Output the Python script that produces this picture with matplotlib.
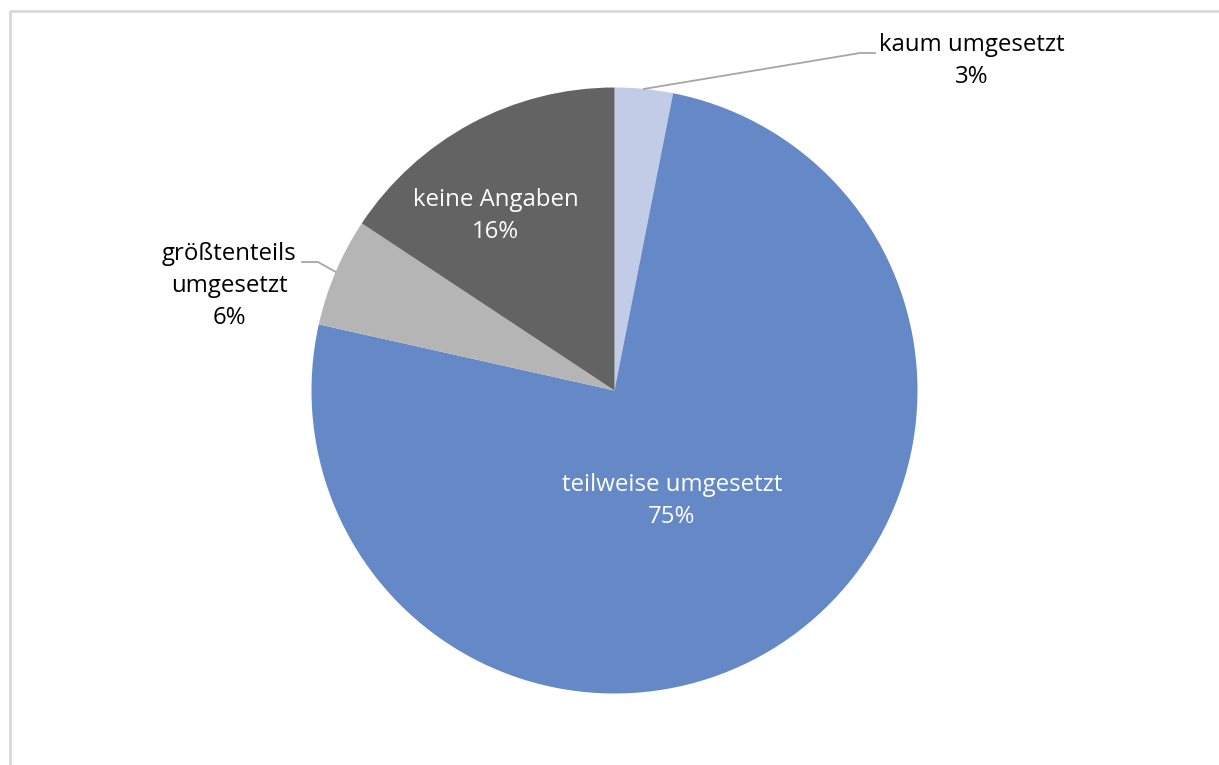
import matplotlib
matplotlib.use("Agg")
import matplotlib.pyplot as plt
import numpy as np

categories = ["kaum umgesetzt", "teilweise umgesetzt", "größtenteils\numgesetzt", "keine Angaben"]
values = [3.1, 75.4, 5.8, 15.7]
colors = ["#C2CCE6", "#6588C6", "#B5B5B5", "#636363"]

W, H = 1219, 765
fig = plt.figure(figsize=(W / 100, H / 100), dpi=100)
ax = fig.add_axes([0, 0, 1, 1])

# chart border
ax.plot([10, 10, W + 5], [-5, H - 10.5, H - 10.5], color="#D9D9D9", lw=2, solid_capstyle="butt")

cx, cy, r = 614.5, H - 390.5, 303
wedges, _ = ax.pie(values, colors=colors, startangle=90, counterclock=False,
                   center=(cx, cy), radius=r, frame=True,
                   wedgeprops=dict(linewidth=0))
ax.set_xlim(0, W)
ax.set_ylim(0, H)
ax.axis("off")

font = "Open Sans"
fs = 17.3
ls = 1.42
labels = [f"{c}\n{round(v):.0f}%" for c, v in zip(categories, values)]

def point_on(i, frac):
    w = wedges[i]
    a = np.deg2rad((w.theta1 + w.theta2) / 2)
    return cx + frac * r * np.cos(a), cy + frac * r * np.sin(a)

# kaum umgesetzt (outside, with leader)
px, py = point_on(0, 1.0)
ax.plot([px, 860, 875], [py, H - 53, H - 53], color="#A6A6A6", lw=1.3)
ax.text(972, H - 61, labels[0], ha="center", va="center", fontsize=fs,
        family=font, color="#000000", linespacing=ls)

# teilweise umgesetzt (inside)
ax.text(672, H - 501, labels[1], ha="center", va="center", fontsize=fs,
        family=font, color="white", linespacing=ls)

# größtenteils umgesetzt (outside, with leader)
px, py = point_on(2, 1.0)
ax.plot([px, 318, 302], [py, H - 262, H - 262], color="#A6A6A6", lw=1.3)
ax.text(229, H - 286, labels[2], ha="center", va="center", fontsize=fs,
        family=font, color="#000000", linespacing=ls)

# keine Angaben (inside)
ax.text(496, H - 216, labels[3], ha="center", va="center", fontsize=fs,
        family=font, color="white", linespacing=ls)

fig.savefig("out.png", dpi=100)
